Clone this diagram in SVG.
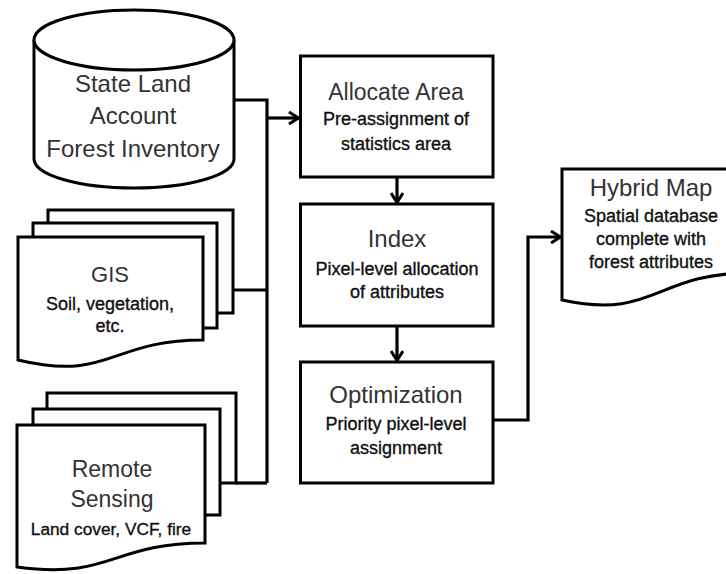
<svg xmlns="http://www.w3.org/2000/svg" width="726" height="574" viewBox="0 0 726 574">
<defs>
<style>
.shape{fill:#fff;stroke:#000;stroke-width:3;stroke-linejoin:miter}
.conn{fill:none;stroke:#000;stroke-width:3.2}
.t{font-family:"Liberation Sans",Arial,sans-serif;font-size:24px;fill:#333;text-anchor:middle}
.s{font-family:"Liberation Sans",Arial,sans-serif;font-size:18px;fill:#111;stroke:#111;stroke-width:0.35;text-anchor:middle}
</style>
<marker id="arr" viewBox="0 0 12 14" refX="11" refY="7" markerWidth="12" markerHeight="14" markerUnits="userSpaceOnUse" orient="auto">
<path d="M1,1 L10.5,7 L1,13" fill="none" stroke="#000" stroke-width="3"/>
</marker>
</defs>
<rect width="726" height="574" fill="#fff"/>

<g id="connectors">
<polyline class="conn" points="234,100 267,100 267,483"/>
<line class="conn" x1="233" y1="290" x2="267" y2="290"/>
<line class="conn" x1="236" y1="483" x2="267" y2="483"/>
<line class="conn" x1="267" y1="118" x2="299" y2="118" marker-end="url(#arr)"/>
<line class="conn" x1="397" y1="177" x2="397" y2="203" marker-end="url(#arr)"/>
<line class="conn" x1="397" y1="326" x2="397" y2="361" marker-end="url(#arr)"/>
<polyline class="conn" points="493,420 528,420 528,237 561,237" marker-end="url(#arr)"/>
</g>

<g id="state-land">
<path class="shape" d="M34,40 V159 A100,29 0 0 0 234,159 V40"/>
<ellipse class="shape" cx="134" cy="40" rx="100" ry="30"/>
<text class="t" x="133" y="92">State Land</text>
<text class="t" x="133" y="124">Account</text>
<text class="t" x="133" y="157">Forest Inventory</text>
</g>

<g id="gis">
<rect class="shape" x="48" y="210" width="185" height="103"/>
<rect class="shape" x="33" y="223" width="184" height="105"/>
<path class="shape" d="M18,237 H203 V340 C110,340 110,382 18,360 Z"/>
<text class="t" x="110" y="282" style="font-size:22px">GIS</text>
<text class="s" x="110" y="310">Soil, vegetation,</text>
<text class="s" x="110" y="332">etc.</text>
</g>

<g id="remote-sensing">
<rect class="shape" x="47" y="393" width="189" height="90"/>
<rect class="shape" x="33" y="409" width="187" height="106"/>
<path class="shape" d="M17,425 H205 V543 C111,543 111,580 17,567 Z"/>
<text class="t" x="112" y="477" style="font-size:23px">Remote</text>
<text class="t" x="112" y="507" style="font-size:23px">Sensing</text>
<text class="s" x="111" y="535" style="font-size:17.3px">Land cover, VCF, fire</text>
</g>

<g id="allocate-area">
<rect class="shape" x="300.5" y="56" width="192.5" height="121"/>
<text class="t" x="396" y="100" style="font-size:23px">Allocate Area</text>
<text class="s" x="396" y="125">Pre-assignment of</text>
<text class="s" x="396" y="150">statistics area</text>
</g>

<g id="index">
<rect class="shape" x="300.5" y="204" width="192.5" height="122"/>
<text class="t" x="397" y="247">Index</text>
<text class="s" x="397" y="275">Pixel-level allocation</text>
<text class="s" x="397" y="298">of attributes</text>
</g>

<g id="optimization">
<rect class="shape" x="300.5" y="362" width="192.5" height="121"/>
<text class="t" x="396" y="403">Optimization</text>
<text class="s" x="396" y="430">Priority pixel-level</text>
<text class="s" x="396" y="454">assignment</text>
</g>

<g id="hybrid-map">
<path class="shape" d="M562,169 H750 V273 C655,273 655,320 562,300 Z"/>
<text class="t" x="651" y="196">Hybrid Map</text>
<text class="s" x="651" y="222">Spatial database</text>
<text class="s" x="651" y="245">complete with</text>
<text class="s" x="651" y="268">forest attributes</text>
</g>
</svg>
